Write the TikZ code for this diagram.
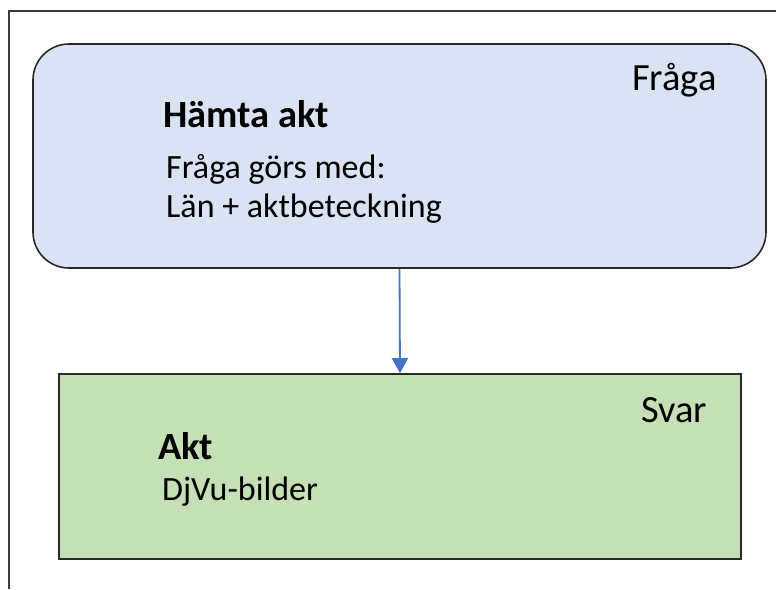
\documentclass[tikz,border=0pt]{standalone}
\usepackage{fontspec}
\setmainfont{Carlito}
\usetikzlibrary{arrows.meta}
\definecolor{qfill}{RGB}{218,227,243}
\definecolor{afill}{RGB}{197,224,180}
\definecolor{arrowblue}{RGB}{68,114,196}
\definecolor{edge}{RGB}{40,40,40}
\tikzset{
  boxq/.style={draw=edge, line width=1.6pt, fill=qfill, rounded corners=36pt, inner sep=0pt},
  boxa/.style={draw=edge, line width=1.6pt, fill=afill, inner sep=0pt},
  txt/.style={anchor=base west, inner sep=0pt, font=\fontsize{34}{40}\selectfont},
  big/.style={anchor=base west, inner sep=0pt, font=\fontsize{38.5}{44}\selectfont},
  btxt/.style={anchor=base west, inner sep=0pt, font=\fontsize{38.5}{44}\selectfont\bfseries},
  conn/.style={draw=arrowblue, line width=1.8pt, -{Triangle[width=16pt,length=15pt]}},
  frame/.style={draw=edge!90, line width=1.6pt}
}
\begin{document}
\begin{tikzpicture}[x=1pt,y=-1pt]
\useasboundingbox (0,0) rectangle (776,589);
\draw[frame] (776,11) -- (9,11) -- (9,589);
\node[boxq, minimum width=733pt, minimum height=224pt] (q) at (399.5,156) {};
\node[boxa, minimum width=682pt, minimum height=185pt] (a) at (400,466.5) {};
\draw[conn] (q.south) -- (a.north);
\node[big] (fraga) at (632,90) {Fråga};
\node[btxt] (hamta) at (163,127) {Hämta akt};
\node[txt] (gors) at (166,178) {Fråga görs med:};
\node[txt] (lan) at (166,217) {Län + aktbeteckning};
\node[big] (svar) at (641,422) {Svar};
\node[btxt] (akt) at (158,459) {Akt};
\node[txt] (djvu) at (162,500) {DjVu-bilder};
\end{tikzpicture}
\end{document}
